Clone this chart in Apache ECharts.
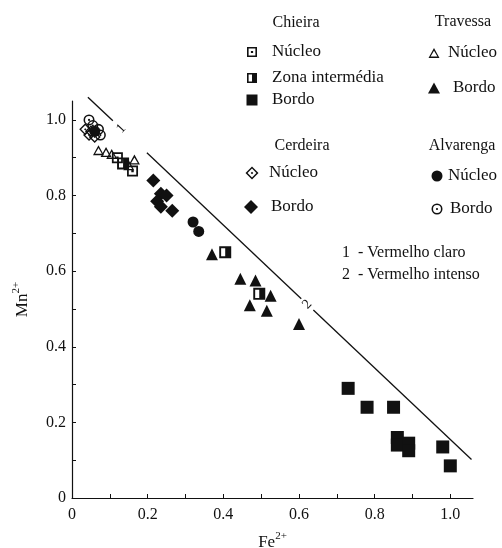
<!DOCTYPE html>
<html>
<head>
<meta charset="utf-8">
<script src="https://cdn.jsdelivr.net/npm/echarts@6/dist/echarts.min.js"></script>
<style>
  html, body { margin: 0; padding: 0; background: #fff; }
  #main { width: 502px; height: 548px; }
</style>
</head>
<body>
<div id="main"></div>
<script>
// Fe2+ / Mn2+ values
var chieiraNucleo = [[0.12, 0.90], [0.16, 0.865]];
var chieiraZona = [[0.135, 0.885], [0.405, 0.65], [0.495, 0.54]];
var chieiraBordo = [[0.73, 0.29], [0.78, 0.24], [0.85, 0.24], [0.86, 0.16], [0.86, 0.14],
  [0.89, 0.145], [0.89, 0.125], [0.98, 0.135], [1.0, 0.085]];
var travessaNucleo = [[0.07, 0.92], [0.09, 0.915], [0.105, 0.91], [0.15, 0.88], [0.165, 0.895]];
var travessaBordo = [[0.37, 0.645], [0.445, 0.58], [0.485, 0.575], [0.525, 0.535],
  [0.47, 0.51], [0.515, 0.495], [0.6, 0.46]];
var cerdeiraNucleo = [[0.035, 0.975], [0.045, 0.96], [0.06, 0.955], [0.05, 0.97]];
var cerdeiraBordo = [[0.215, 0.84], [0.235, 0.805], [0.25, 0.80], [0.225, 0.785],
  [0.235, 0.77], [0.265, 0.76]];
var alvarengaNucleo = [[0.06, 0.97], [0.32, 0.73], [0.335, 0.705]];
var alvarengaBordo = [[0.045, 1.0], [0.055, 0.985], [0.07, 0.975], [0.075, 0.96]];

// reference line (1 - vermelho claro / 2 - vermelho intenso), split where the labels sit
var lineSegments = [
  [[0.042, 1.06], [0.108, 0.998]],
  [[0.198, 0.913], [0.606, 0.527]],
  [[0.638, 0.497], [1.056, 0.102]]
];
var lineLabels = [['1', 0.13, 0.977], ['2', 0.622, 0.512]];

var xTicks = [0.1, 0.2, 0.3, 0.4, 0.5, 0.6, 0.7, 0.8, 0.9, 1.0];
var xLabels = [0, 0.2, 0.4, 0.6, 0.8, 1.0];
var yTicks = [0.1, 0.2, 0.3, 0.4, 0.5, 0.6, 0.7, 0.8, 0.9, 1.0];
var yLabels = [0, 0.2, 0.4, 0.6, 0.8, 1.0];

var FONT = 'Liberation Serif';
var INK = '#111';

// symbol shapes on a 10x10 box (holes drawn with opposite winding)
var SYM = {
  sqDot: 'M0 0H10V10H0Z M1.6 1.6V8.4H8.4V1.6Z M3.9 3.9H6.1V6.1H3.9Z',
  sqHalf: 'M0 0H10V10H0Z M1.6 1.6V8.4H5V1.6Z',
  sq: 'M0 0H10V10H0Z',
  triOpen: 'M5 0L10 10L0 10Z M5 2.8L1.9 8.6H8.1Z',
  tri: 'M5 0L10 10L0 10Z',
  diaDot: 'M5 0L10 5L5 10L0 5Z M5 1.6L1.6 5L5 8.4L8.4 5Z M5 4L6 5L5 6L4 5Z',
  dia: 'M5 0L10 5L5 10L0 5Z',
  circ: 'M5 0A5 5 0 1 1 5 10A5 5 0 1 1 5 0Z',
  circDot: 'M5 0A5 5 0 1 1 5 10A5 5 0 1 1 5 0Z M5 1.4A3.6 3.6 0 1 0 5 8.6A3.6 3.6 0 1 0 5 1.4Z M5 4A1 1 0 1 1 5 6A1 1 0 1 1 5 4Z'
};
Object.keys(SYM).forEach(function (k) {
  echarts.graphic.registerShape('sym_' + k, echarts.graphic.extendPath(SYM[k], {}));
});

function fmt(v) { return v === 0 ? '0' : v.toFixed(1); }

function scat(name, data, sym, size) {
  return {
    name: name, type: 'scatter', data: data,
    symbol: 'path://' + SYM[sym], symbolSize: size,
    itemStyle: { color: INK, opacity: 1 },
    emphasis: { disabled: true }
  };
}

var series = [];
lineSegments.forEach(function (seg) {
  series.push({
    type: 'line', data: seg, symbol: 'none', silent: true, clip: false,
    lineStyle: { color: INK, width: 1.3 }
  });
});
series.push(
  scat('Cerdeira Núcleo', cerdeiraNucleo, 'diaDot', 12),
  scat('Alvarenga Bordo', alvarengaBordo, 'circDot', 11),
  scat('Travessa Núcleo', travessaNucleo, 'triOpen', [11, 10]),
  scat('Chieira Núcleo', chieiraNucleo, 'sqDot', 11),
  scat('Chieira Zona', chieiraZona, 'sqHalf', 12),
  scat('Chieira Bordo', chieiraBordo, 'sq', 13),
  scat('Travessa Bordo', travessaBordo, 'tri', [12, 12]),
  scat('Cerdeira Bordo', cerdeiraBordo, 'dia', 14),
  scat('Alvarenga Núcleo', alvarengaNucleo, 'circ', 11)
);

// legend drawn by hand: [symbol, cx, cy, w, h, text, textX]
var legendItems = [
  ['sqDot', 252, 52, 10, 10, 'Núcleo', 272],
  ['sqHalf', 252, 78, 10, 10, 'Zona intermédia', 272],
  ['sq', 252, 100, 11, 11, 'Bordo', 272],
  ['triOpen', 434, 53, 11, 10, 'Núcleo', 448],
  ['tri', 434, 88, 12, 11, 'Bordo', 453],
  ['diaDot', 252, 173, 13, 13, 'Núcleo', 269],
  ['dia', 251, 207, 14, 14, 'Bordo', 271],
  ['circ', 437, 176, 11, 11, 'Núcleo', 448],
  ['circDot', 437, 209, 11, 11, 'Bordo', 450]
];
var groupTitles = [['Chieira', 296, 23], ['Travessa', 463, 22], ['Cerdeira', 302, 146], ['Alvarenga', 462, 146]];

var graphic = [];
legendItems.forEach(function (it) {
  graphic.push({
    type: 'sym_' + it[0],
    x: it[1] - it[3] / 2, y: it[2] - it[4] / 2,
    scaleX: it[3] / 10, scaleY: it[4] / 10,
    style: { fill: INK }
  });
  graphic.push({
    type: 'text', x: it[6], y: it[2],
    style: { text: it[5], font: '17px "' + FONT + '"', fill: INK, align: 'left', verticalAlign: 'middle' }
  });
});
groupTitles.forEach(function (t) {
  graphic.push({
    type: 'text', x: t[1], y: t[2],
    style: { text: t[0], font: '16px "' + FONT + '"', fill: INK, align: 'center', verticalAlign: 'middle' }
  });
});
graphic.push(
  { type: 'text', x: 342, y: 253, style: { text: '1  - Vermelho claro', font: '16px "' + FONT + '"', fill: INK, verticalAlign: 'middle' } },
  { type: 'text', x: 342, y: 275, style: { text: '2  - Vermelho intenso', font: '16px "' + FONT + '"', fill: INK, verticalAlign: 'middle' } }
);

var axisCommon = {
  type: 'value', min: 0,
  splitLine: { show: false },
  axisLine: { lineStyle: { color: INK, width: 1.2 } },
  axisTick: { inside: true, length: 4, lineStyle: { color: INK } },
  axisLabel: { color: INK, fontFamily: FONT, fontSize: 16, formatter: fmt },
  nameLocation: 'middle',
  nameTextStyle: {
    color: INK, fontFamily: FONT,
    rich: {
      b: { fontFamily: FONT, fontSize: 17, color: INK },
      s: { fontFamily: FONT, fontSize: 11, color: INK, padding: [0, 0, 12, 0] }
    }
  }
};

var chart = echarts.init(document.getElementById('main'), null, { renderer: 'canvas' });
chart.setOption({
  backgroundColor: '#fff',
  animation: false,
  grid: { left: 72, top: 101, right: 29, bottom: 50, outerBoundsMode: 'none', containLabel: false },
  xAxis: Object.assign({}, axisCommon, {
    max: 1.06, name: '{b|Fe}{s|2+}', nameGap: 33,
    axisTick: Object.assign({}, axisCommon.axisTick, { customValues: xTicks }),
    axisLabel: Object.assign({}, axisCommon.axisLabel, { customValues: xLabels, margin: 9 })
  }),
  yAxis: Object.assign({}, axisCommon, {
    max: 1.05, name: '{b|Mn}{s|2+}', nameGap: 38,
    axisTick: Object.assign({}, axisCommon.axisTick, { customValues: yTicks }),
    axisLabel: Object.assign({}, axisCommon.axisLabel, { customValues: yLabels, margin: 6 })
  }),
  series: series
});

// line labels placed on the line gaps, turned to follow the line
var extra = lineLabels.map(function (l) {
  var p = chart.convertToPixel({ gridIndex: 0 }, [l[1], l[2]]);
  return {
    type: 'text', x: p[0], y: p[1], rotation: 0.82,
    style: { text: l[0], font: '14px "' + FONT + '"', fill: INK, align: 'center', verticalAlign: 'middle' }
  };
});
chart.setOption({ graphic: graphic.concat(extra) });
</script>
</body>
</html>
